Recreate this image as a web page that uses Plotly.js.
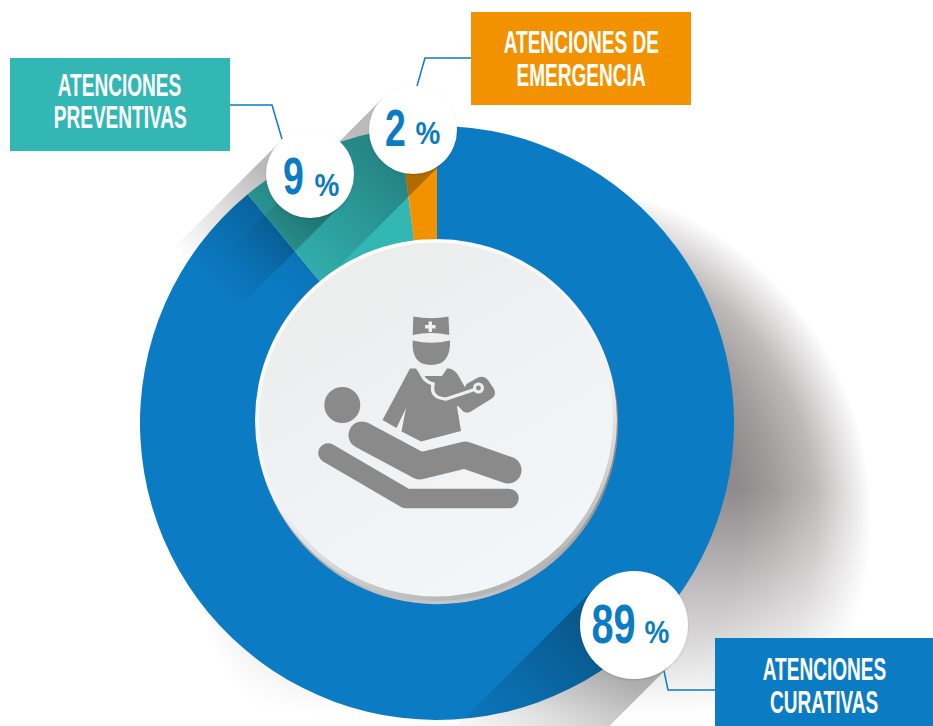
<!DOCTYPE html>
<html>
<head>
<meta charset="utf-8">
<script src="https://cdn.plot.ly/plotly-3.0.1.min.js"></script>
<style>html,body{margin:0;padding:0;background:#fff}#c{width:933px;height:726px}</style>
</head>
<body>
<div id="c"></div>
<script>
const categories = ['Atenciones curativas', 'Atenciones preventivas', 'Atenciones de emergencia'];
const values = [89, 9, 2];
const colors = ['#0b7bc3', '#33b7b5', '#f39200'];
const boxLines = [['ATENCIONES', 'CURATIVAS'], ['ATENCIONES', 'PREVENTIVAS'], ['ATENCIONES DE', 'EMERGENCIA']];

const W = 933, H = 726;
const px = x => x / W, py = y => 1 - y / H;

const bubbles = [
  {cx: 634, cy: 625, r: 54, L: 215, nx: 613.5, ny: 624, nfs: 55, px: 657, py: 632, pfs: 31},
  {cx: 310, cy: 174, r: 44, L: 150, nx: 293.5, ny: 176, nfs: 52, px: 327, py: 185, pfs: 31},
  {cx: 413, cy: 130, r: 44, L: 215, nx: 395, ny: 128, nfs: 52, px: 428, py: 134, pfs: 31}
];
const boxes = [
  {x0: 715, y0: 638, x1: 933, y1: 726, t1: 669, t2: 702},
  {x0: 10, y0: 58, x1: 230, y1: 151, t1: 86, t2: 118},
  {x0: 471, y0: 12, x1: 691, y1: 105, t1: 43, t2: 76}
];
const connectors = ['M664,671 L668,690 L715,690', 'M230,105 L272,105 L282,139', 'M471,58 L425,58 L417,86'];

function bandDefs() {
  return bubbles.map((b, i) => {
    const k = Math.SQRT1_2;
    return `<linearGradient id="ls${i}" gradientUnits="userSpaceOnUse" x1="${b.cx}" y1="${b.cy}" x2="${b.cx - b.L * k}" y2="${b.cy + b.L * k}"><stop offset="0.2" stop-color="#000" stop-opacity="0.27"/><stop offset="0.6" stop-color="#000" stop-opacity="0.12"/><stop offset="1" stop-color="#000" stop-opacity="0"/></linearGradient>`;
  }).join('');
}
function bands() {
  return bubbles.map((b, i) => {
    const k = Math.SQRT1_2, t = b.r * k, l = b.L * k;
    const a = [b.cx - t, b.cy - t], c = [b.cx + t, b.cy + t];
    return `<path fill="url(#ls${i})" d="M${a} L${a[0] - l},${a[1] + l} L${c[0] - l},${c[1] + l} L${c} Z"/>`;
  }).join('');
}
function svgUri(s) {
  return 'data:image/svg+xml;charset=utf-8,' + encodeURIComponent(s);
}
const softShadow = `<svg xmlns="http://www.w3.org/2000/svg" width="933" height="726" viewBox="0 0 933 726">
<defs>
<radialGradient id="s" gradientUnits="userSpaceOnUse" cx="530" cy="520" r="342">
<stop offset="0.62" stop-color="#8f8b8c"/><stop offset="0.72" stop-color="#a09c9c"/><stop offset="0.84" stop-color="#bdb9b9"/><stop offset="0.93" stop-color="#e2e0e0"/><stop offset="1" stop-color="#ffffff"/>
</radialGradient>
<linearGradient id="v" gradientUnits="userSpaceOnUse" x1="0" y1="490" x2="0" y2="715"><stop offset="0" stop-color="#fff"/><stop offset="1" stop-color="#000"/></linearGradient>
<mask id="m" maskUnits="userSpaceOnUse" x="0" y="0" width="933" height="726"><rect width="933" height="726" fill="url(#v)"/></mask>
</defs>
<circle cx="530" cy="520" r="342" fill="url(#s)" mask="url(#m)"/>
</svg>`;

const overlay = `<svg xmlns="http://www.w3.org/2000/svg" width="933" height="726" viewBox="0 0 933 726">
<defs>
${bandDefs()}
<linearGradient id="rim" x1="0.2" y1="0" x2="0.6" y2="1"><stop offset="0" stop-color="#ffffff"/><stop offset="0.6" stop-color="#f2f2f2"/><stop offset="1" stop-color="#b4b4b4"/></linearGradient>
<linearGradient id="disc" x1="0.2" y1="0" x2="0.8" y2="1"><stop offset="0" stop-color="#ebecec"/><stop offset="1" stop-color="#f4f7f9"/></linearGradient>
<filter id="bs" x="-20%" y="-20%" width="140%" height="140%"><feDropShadow dx="0" dy="1" stdDeviation="0.8" flood-color="#000" flood-opacity="0.15"/></filter>
</defs>
${bands()}
<circle cx="436" cy="420" r="181" fill="url(#rim)"/>
<circle cx="436" cy="419.5" r="177" fill="url(#disc)"/>
<g fill="#8a8a8a">
<circle cx="342.3" cy="405" r="18"/>
<path d="M413.3,316.5 Q431,320 448.5,316.5 L449.3,335 Q431,331 412.7,335 Z"/>
<path d="M412.7,340.5 Q431,345 450,340.5 Q451,365 431,365 Q411,365 412.7,340.5 Z"/>
<path d="M410,368.5 L416,368.5 L421,376 L442,376 L447,368.5 L449,368.5 Q454,369 458,375 L466.5,390 L457,407 L461,431 L421,441.5 L401.5,431.5 L406,408 L396.5,428 L382.5,420 Z"/>
<path d="M466.5,384 L478,377.5 Q484,375 488,380 L494,389 Q497,395 491,399 L470,412 Q464,414 461,409 L457,405 Z"/>
</g>
<g fill="none" stroke="#eef0f0" stroke-width="3.4" stroke-linecap="round">
<path d="M420,369 Q422,381 433,384 Q430,398 446,399 L476,389"/>
</g>
<circle cx="478.5" cy="388" r="5.5" fill="#eef0f0"/><circle cx="478.5" cy="388" r="2.4" fill="#8a8a8a"/>
<path fill="#f0f1f1" d="M428.5,321.5 h3.5 v3.5 h3.5 v3.5 h-3.5 v3.5 h-3.5 v-3.5 h-3.5 v-3.5 h3.5 Z"/>
<g fill="none" stroke="#8a8a8a" stroke-linecap="round" stroke-linejoin="round">
<path stroke-width="27" d="M362,435 L420,466 L465,455 L508,470"/>
<path stroke-width="19.5" d="M328,453 L406,498.5 L509,498.5"/>
</g>
${bubbles.map(b => `<circle cx="${b.cx}" cy="${b.cy}" r="${b.r}" fill="#fff" filter="url(#bs)"/>`).join('')}
</svg>`;

const fullImg = (src, layer) => ({source: src, xref: 'paper', yref: 'paper', x: 0, y: 1, sizex: 1, sizey: 1, xanchor: 'left', yanchor: 'top', sizing: 'stretch', layer});

const trace = {
  type: 'pie', labels: categories, values: values, sort: false, direction: 'clockwise', rotation: 0,
  hole: 0.61, textinfo: 'none', hoverinfo: 'label+percent', showlegend: false,
  marker: {colors: colors, line: {width: 0}},
  domain: {x: [px(140), px(734)], y: [py(720), py(126)]}
};

const shapes = boxes.map((b, i) => ({type: 'rect', xref: 'paper', yref: 'paper', layer: 'above',
    x0: px(b.x0), x1: px(b.x1), y0: py(b.y1), y1: py(b.y0), fillcolor: colors[i], line: {width: 0}}));
connectors.forEach(c => {
  const path = c.replace(/(-?[\d.]+),(-?[\d.]+)/g, (m, x, y) => px(+x).toFixed(5) + ',' + py(+y).toFixed(5));
  shapes.push({type: 'path', xref: 'paper', yref: 'paper', layer: 'above', path, line: {color: '#0b7bc3', width: 1.5}});
});

const FONT = '"Liberation Sans Narrow","Liberation Sans",sans-serif';
const annotations = [];
const note = (t, x, y, size, color) => annotations.push({text: '<b>' + t + '</b>', x: px(x), y: py(y), xref: 'paper', yref: 'paper',
  showarrow: false, xanchor: 'center', yanchor: 'middle', font: {family: FONT, size, color}});
boxes.forEach((b, i) => {
  const mid = (b.x0 + b.x1) / 2;
  note(boxLines[i][0], mid, b.t1, 31, '#ffffff');
  note(boxLines[i][1], mid, b.t2, 31, '#ffffff');
});
bubbles.forEach((b, i) => {
  note(String(values[i]), b.nx, b.ny, b.nfs, '#0b7bc3');
  note('%', b.px, b.py, b.pfs, '#0b7bc3');
});

const layout = {
  width: W, height: H, margin: {l: 0, r: 0, t: 0, b: 0}, paper_bgcolor: '#ffffff', plot_bgcolor: '#ffffff',
  showlegend: false, images: [fullImg(svgUri(softShadow), 'below'), fullImg(svgUri(overlay), 'above')], shapes, annotations
};

const squeeze = [0.615, 0.72, 0.9];
Plotly.newPlot('c', [trace], layout, {displayModeBar: false, staticPlot: true}).then(() => {
  document.querySelectorAll('.annotation-text').forEach((t, i) => {
    const bb = t.getBBox(), c = bb.x + bb.width / 2;
    const s = i < 6 ? squeeze[0] : (i % 2 === 0 ? squeeze[1] : squeeze[2]);
    t.setAttribute('transform', `translate(${c},0) scale(${s},1) translate(${-c},0)`);
  });
});
</script>
</body>
</html>
